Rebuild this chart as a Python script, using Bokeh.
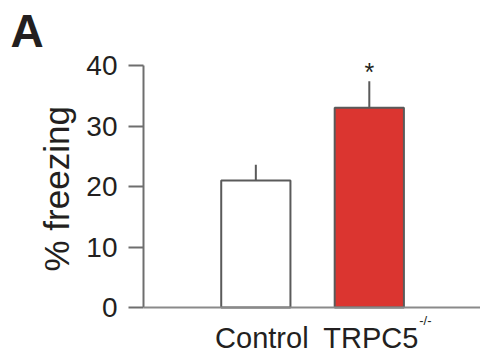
from bokeh.plotting import figure
from bokeh.models import Range1d, FixedTicker, ColumnDataSource, Span, Title
from bokeh.core.properties import value
from bokeh.embed import file_html
from bokeh.resources import INLINE

# ---- data ----
groups = ["Control", "TRPC5"]
genotype_sup = ["", "-/-"]
group_pos = [1, 2]
freezing = [21.0, 33.0]
sem = [2.6, 4.4]
bar_colors = ["#ffffff", "#db3530"]
y_ticks = [0, 10, 20, 30, 40]
signif = ["", "*"]
y_title = "% freezing"
panel_letter = "A"

FONT = "Liberation Sans"
AX = "#6e6e6e"
TXT = "#231f20"

W, H = 480, 358
LEFT, TOP = 143, 56
PX_PER_UNIT = 6.05
ZERO_Y = 307  # canvas y of value 0
y_end = (ZERO_Y - TOP) / PX_PER_UNIT
y_start = -(H - ZERO_Y) / PX_PER_UNIT

p = figure(width=W, height=H, output_backend="svg", toolbar_location=None,
           x_range=Range1d(0.01, 2.98), y_range=Range1d(y_start, y_end),
           x_axis_location=None,
           min_border_left=LEFT, min_border_right=0, min_border_top=TOP,
           min_border_bottom=0, title=panel_letter)
p.outline_line_color = None
p.grid.grid_line_color = None
p.background_fill_color = None
p.border_fill_color = "white"

# panel letter as title
p.title.text_font = FONT
p.title.text_font_size = "46px"
p.title.text_font_style = "bold"
p.title.text_color = TXT
p.title.align = "left"
p.title.vertical_align = "bottom"
p.title.offset = -(LEFT - 10)
p.title.standoff = 0

err_top = [f + s for f, s in zip(freezing, sem)]
src = ColumnDataSource(dict(x=group_pos, top=freezing, color=bar_colors, err=err_top))
p.vbar(x="x", top="top", bottom=0, width=0.61, fill_color="color",
       line_color="#5a5a5a", line_width=2, source=src)
p.segment(x0="x", y0="top", x1="x", y1="err", line_color="#5a5a5a",
          line_width=2, source=src)

# baseline
p.add_layout(Span(location=0, dimension="width", line_color="#8a8a8a", line_width=2))

# significance marker
star_x = [x for x, s in zip(group_pos, signif) if s]
star_y = [e + 1.5 for e, s in zip(err_top, signif) if s]
p.text(x=star_x, y=star_y, text=[s for s in signif if s], text_align="center",
       text_baseline="middle", text_font=value(FONT), text_font_size="25px",
       text_color=TXT)

# category labels
p.text(x=[group_pos[0] + 0.053], y=[-5.1], text=[groups[0]], text_align="center",
       text_baseline="middle", text_font=value(FONT), text_font_size="29px",
       text_color=TXT)
p.text(x=[group_pos[1] - 0.405], y=[-5.1], text=[groups[1]], text_align="left",
       text_baseline="middle", text_font=value(FONT), text_font_size="29px",
       text_color=TXT)
p.text(x=[group_pos[1] + 0.44], y=[-2.15], text=[genotype_sup[1]], text_align="left",
       text_baseline="middle", text_font=value(FONT), text_font_size="13px",
       text_color=TXT)

# y axis
ya = p.yaxis[0]
ya.bounds = (0, 40)
ya.ticker = FixedTicker(ticks=y_ticks)
ya.minor_tick_line_color = None
ya.major_tick_in = 0
ya.major_tick_out = 15
ya.major_tick_line_color = AX
ya.major_tick_line_width = 2
ya.axis_line_color = AX
ya.axis_line_width = 2
ya.major_label_text_font = FONT
ya.major_label_text_font_size = "28px"
ya.major_label_text_color = TXT
ya.major_label_standoff = 11

# y-axis title, placed along the 0-40 axis
p.add_layout(Title(text=y_title, align="left", offset=87, text_font=FONT,
                   text_font_size="35px", text_font_style="normal",
                   text_color=TXT, standoff=16), "left")

open("out.html", "w").write(file_html(p, INLINE))
